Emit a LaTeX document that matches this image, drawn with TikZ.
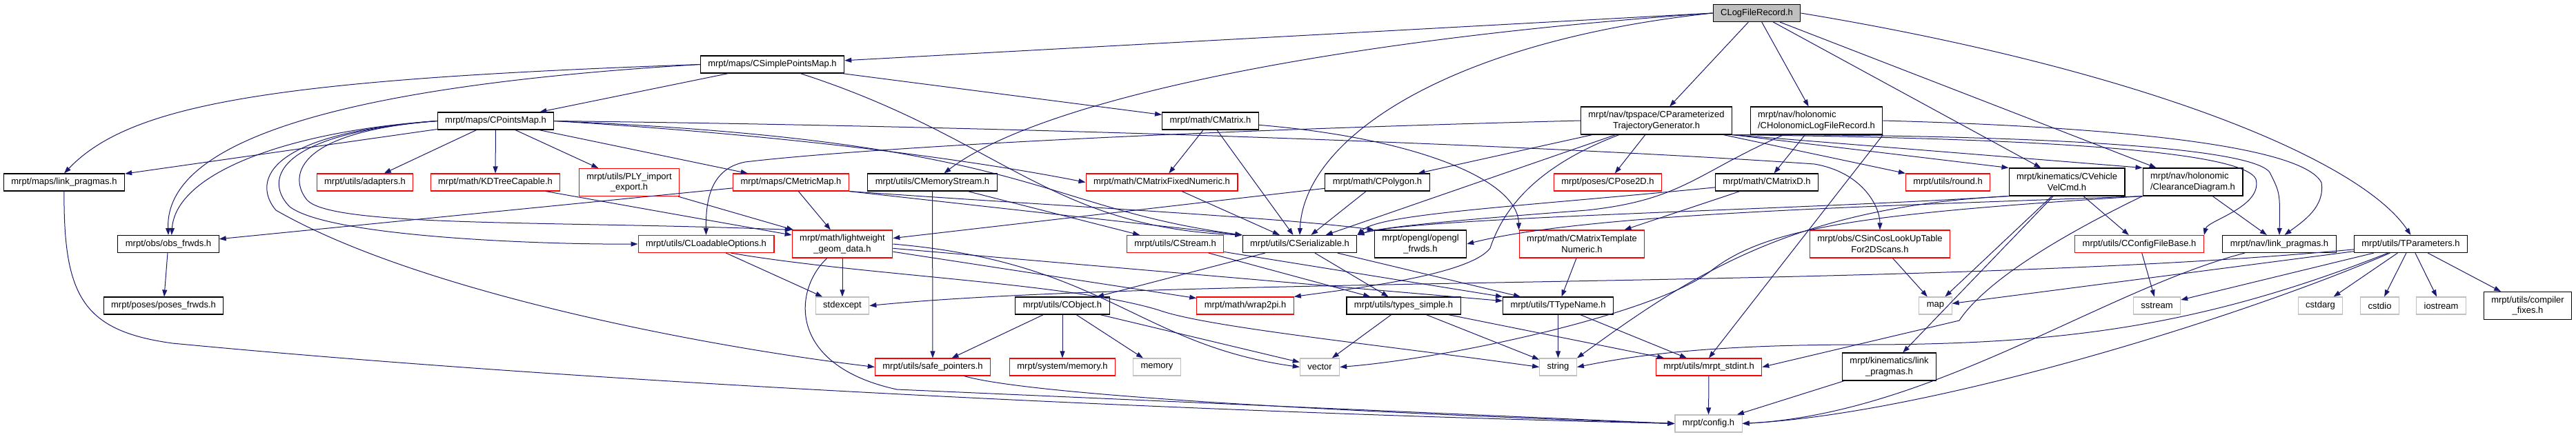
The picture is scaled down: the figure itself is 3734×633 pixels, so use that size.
\documentclass[tikz,border=0pt]{standalone}
\usepackage{fontspec}
\setmainfont{Liberation Sans}
\usetikzlibrary{arrows.meta}
\definecolor{depblue}{RGB}{25,25,112}
\definecolor{grey75}{RGB}{191,191,191}

\begin{document}
\begin{tikzpicture}[x=1pt,y=1pt,
        hdr/.style={draw=black,line width=1.1pt,fill=white,inner xsep=11pt,inner ysep=1pt,minimum height=25pt,align=center,font=\fontsize{13}{15.5}\selectfont},
        two/.style={minimum height=40pt},
        redhdr/.style={hdr,draw=red},
        syshdr/.style={hdr,draw=grey75},
        roothdr/.style={hdr,fill=grey75},
        dep/.style={depblue,line width=1pt,-{Triangle[length=10pt,width=7pt]}}]
    \useasboundingbox (0,0) rectangle (3734,-633);
    %% headers, top rows
    \node[roothdr] (root) at (2546.5,-19) {CLogFileRecord.h};
    \node[hdr] (spm) at (1119.5,-93.5) {mrpt/maps/CSimplePointsMap.h};
    \node[hdr] (pm) at (718.5,-175.5) {mrpt/maps/CPointsMap.h};
    \node[hdr] (cmat) at (1754.5,-175.5) {mrpt/math/CMatrix.h};
    \node[hdr,two] (ptg) at (2401,-175) {mrpt/nav/tpspace/CParameterized\\TrajectoryGenerator.h};
    \node[hdr,two,align=left] (hlog) at (2633,-175) {mrpt/nav/holonomic\\/CHolonomicLogFileRecord.h};
    %% third row
    \node[hdr] (mlink) at (93,-264.5) {mrpt/maps/link\_pragmas.h};
    \node[redhdr] (adapt) at (529,-264.5) {mrpt/utils/adapters.h};
    \node[redhdr] (kdt) at (718,-264.5) {mrpt/math/KDTreeCapable.h};
    \node[redhdr,two] (ply) at (912,-264.5) {mrpt/utils/PLY\_import\\\_export.h};
    \node[redhdr] (metric) at (1146.5,-264.5) {mrpt/maps/CMetricMap.h};
    \node[hdr] (memst) at (1351.5,-264.5) {mrpt/utils/CMemoryStream.h};
    \node[redhdr] (cmfix) at (1684,-264.5) {mrpt/math/CMatrixFixedNumeric.h};
    \node[hdr] (poly) at (1996.5,-264.5) {mrpt/math/CPolygon.h};
    \node[redhdr] (pose) at (2330.5,-264.5) {mrpt/poses/CPose2D.h};
    \node[hdr] (cmatd) at (2561,-264.5) {mrpt/math/CMatrixD.h};
    \node[redhdr] (round) at (2823.5,-264.5) {mrpt/utils/round.h};
    \node[hdr,two] (vcmd) at (2996,-264) {mrpt/kinematics/CVehicle\\VelCmd.h};
    \node[hdr,two,align=left] (clear) at (3178.5,-264) {mrpt/nav/holonomic\\/ClearanceDiagram.h};
    %% fourth row
    \node[hdr] (obsf) at (244,-354) {mrpt/obs/obs\_frwds.h};
    \node[redhdr] (loadopt) at (1023.5,-354) {mrpt/utils/CLoadableOptions.h};
    \node[redhdr,two] (lgeom) at (1221,-354) {mrpt/math/lightweight\\\_geom\_data.h};
    \node[redhdr] (stream) at (1703.5,-354) {mrpt/utils/CStream.h};
    \node[hdr] (ser) at (1884,-354) {mrpt/utils/CSerializable.h};
    \node[hdr,two] (glf) at (2059,-354) {mrpt/opengl/opengl\\\_frwds.h};
    \node[redhdr,two] (cmtn) at (2293,-354) {mrpt/math/CMatrixTemplate\\Numeric.h};
    \node[redhdr,two] (sincos) at (2725,-354) {mrpt/obs/CSinCosLookUpTable\\For2DScans.h};
    \node[redhdr] (cfg) at (3101,-354) {mrpt/utils/CConfigFileBase.h};
    \node[hdr] (nlink) at (3304,-354) {mrpt/nav/link\_pragmas.h};
    \node[hdr] (tpar) at (3494.5,-354) {mrpt/utils/TParameters.h};
    %% fifth row
    \node[hdr] (posef) at (237,-443.5) {mrpt/poses/poses\_frwds.h};
    \node[syshdr] (stdexc) at (1221,-443.5) {stdexcept};
    \node[hdr] (cobj) at (1540,-443.5) {mrpt/utils/CObject.h};
    \node[redhdr] (wrap) at (1805,-443.5) {mrpt/math/wrap2pi.h};
    \node[hdr] (types) at (2034.5,-443.5) {mrpt/utils/types\_simple.h};
    \node[hdr] (ttype) at (2258.5,-443.5) {mrpt/utils/TTypeName.h};
    \node[syshdr] (smap) at (2805.5,-443.5) {map};
    \node[syshdr] (sstr) at (3126.5,-443.5) {sstream};
    \node[syshdr] (cstdarg) at (3363.5,-443.5) {cstdarg};
    \node[syshdr] (cstdio) at (3449.5,-443.5) {cstdio};
    \node[syshdr] (iostr) at (3538.5,-443.5) {iostream};
    \node[hdr,two] (cfix) at (3664,-443.5) {mrpt/utils/compiler\\\_fixes.h};
    %% bottom rows
    \node[redhdr] (safe) at (1352,-532.5) {mrpt/utils/safe\_pointers.h};
    \node[redhdr] (sysmem) at (1540,-532.5) {mrpt/system/memory.h};
    \node[syshdr] (memory) at (1677,-532.5) {memory};
    \node[syshdr] (vector) at (1913,-532.5) {vector};
    \node[syshdr] (string) at (2258.5,-532.5) {string};
    \node[redhdr] (stdint) at (2477,-532.5) {mrpt/utils/mrpt\_stdint.h};
    \node[hdr,two] (klink) at (2738.5,-532) {mrpt/kinematics/link\\\_pragmas.h};
    \node[syshdr] (config) at (2476.5,-614.5) {mrpt/config.h};
    %% CLogFileRecord.h
    \draw[dep] (root.west) -- (spm);
    \draw[dep] (root.west) .. controls (1900,-60) and (1500,-150) .. (memst);
    \draw[dep] (root.west) .. controls (2100,-60) and (1890,-200) .. (ser.north);
    \draw[dep] (root) -- (ptg);
    \draw[dep] (root) -- (hlog);
    \draw[dep] (root) -- (vcmd);
    \draw[dep] (root) -- (clear);
    \draw[dep] (root.east) .. controls (3100,-100) and (3420,-230) .. (tpar.north);
    %% CSimplePointsMap.h
    \draw[dep] (spm) -- (pm);
    \draw[dep] (spm) -- (cmat);
    \draw[dep] (spm.west) .. controls (400,-115) and (190,-150) .. (mlink.north);
    \draw[dep] (spm.west) .. controls (400,-130) and (240,-230) .. (obsf.north);
    \draw[dep] (spm) .. controls (1450,-200) and (1520,-330) .. (ser.north west);
    %% CPointsMap.h
    \draw[dep] (pm) -- (mlink);
    \draw[dep] (pm.west) .. controls (420,-190) and (255,-250) .. (obsf.70);
    \draw[dep] (pm) -- (adapt);
    \draw[dep] (pm) -- (kdt);
    \draw[dep] (pm) -- (ply);
    \draw[dep] (pm) -- (metric);
    \draw[dep] (pm.west) .. controls (390,-195) and (385,-265) .. (420,-300) .. controls (480,-345) and (800,-355) .. (loadopt.west);
    \draw[dep] (pm.west) .. controls (420,-192) and (420,-260) .. (445,-290) .. controls (480,-330) and (800,-320) .. (lgeom.north west);
    \draw[dep] (pm.west) .. controls (370,-195) and (370,-270) .. (400,-305) .. controls (600,-420) and (1000,-500) .. (safe.west);
    \draw[dep] (pm.east) .. controls (1500,-205) and (1500,-300) .. (ser.north west);
    \draw[dep] (pm.east) .. controls (1200,-200) and (1450,-240) .. (cmfix.west);
    \draw[dep] (pm.east) .. controls (1600,-185) and (2300,-215) .. (2630,-238) .. controls (2700,-250) and (2725,-300) .. (sincos.north);
    %% CMetricMap.h and friends
    \draw[dep] (metric) -- (obsf);
    \draw[dep] (metric) -- (lgeom);
    \draw[dep] (metric.south east) -- (ser.north west);
    \draw[dep] (metric.south east) .. controls (1550,-300) and (1850,-315) .. (glf.north west);
    \draw[dep] (kdt) -- (lgeom);
    \draw[dep] (ply) -- (lgeom);
    \draw[dep] (memst) -- (stream);
    \draw[dep] (memst) -- (safe);
    %% CMatrix.h
    \draw[dep] (cmat) -- (cmfix);
    \draw[dep] (cmat) -- (ser);
    \draw[dep] (cmat) .. controls (2050,-200) and (2200,-260) .. (cmtn.north west);
    \draw[dep] (cmfix) -- (ser);
    %% CParameterizedTrajectoryGenerator.h
    \draw[dep] (ptg) -- (poly);
    \draw[dep] (ptg) -- (pose);
    \draw[dep] (ptg) -- (ser);
    \draw[dep] (ptg) -- (round);
    \draw[dep] (ptg.south east) -- (vcmd.north west);
    \draw[dep] (ptg.south east) -- (clear.north west);
    \draw[dep] (ptg.west) .. controls (1700,-190) and (1250,-215) .. (1080,-235) .. controls (1030,-245) and (1023,-290) .. (loadopt.north);
    \draw[dep] (ptg) .. controls (2230,-240) and (2180,-300) .. (2160,-360) .. controls (2130,-400) and (1950,-420) .. (wrap.north east);
    \draw[dep] (ptg.south east) .. controls (2900,-200) and (3250,-215) .. (3270,-260) .. controls (3280,-300) and (3200,-320) .. (cfg.north east);
    \draw[dep] (ptg.south east) .. controls (2900,-195) and (3260,-210) .. (3290,-250) .. controls (3305,-280) .. (nlink.north);
    \draw[dep] (poly) -- (lgeom);
    \draw[dep] (poly) -- (ser);
    %% CHolonomicLogFileRecord.h
    \draw[dep] (hlog) -- (cmatd);
    \draw[dep] (hlog) .. controls (2460,-250) and (2440,-290) .. (2300,-305) .. controls (2100,-320) and (2000,-330) .. (ser.north east);
    \draw[dep] (hlog.east) .. controls (3100,-185) and (3340,-215) .. (3365,-265) .. controls (3370,-300) and (3340,-320) .. (nlink.60);
    \draw[dep] (hlog.south east) -- (stdint.north);
    \draw[dep] (cmatd) -- (cmtn);
    \draw[dep] (cmatd) .. controls (2200,-300) and (2000,-310) .. (ser.north east);
    %% CVehicleVelCmd.h
    \draw[dep] (vcmd.south west) .. controls (2600,-305) and (2050,-315) .. (ser.north east);
    \draw[dep] (vcmd) -- (klink);
    \draw[dep] (vcmd) -- (cfg);
    \draw[dep] (vcmd) -- (smap);
    \draw[dep] (vcmd.south west) .. controls (2600,-300) and (2450,-400) .. (string.north east);
    %% ClearanceDiagram.h
    \draw[dep] (clear) -- (nlink);
    \draw[dep] (clear.south west) .. controls (2700,-300) and (2300,-310) .. (glf.east);
    \draw[dep] (clear.south west) .. controls (2950,-360) and (2870,-420) .. (2840,-465) -- (stdint.east);
    \draw[dep] (clear.south west) .. controls (2700,-310) and (2560,-330) .. (2480,-393) .. controls (2400,-455) and (2100,-520) .. (vector.east);
    %% TParameters.h
    \draw[dep] (tpar) -- (smap);
    \draw[dep] (tpar) .. controls (2800,-420) and (1700,-400) .. (stdexc.east);
    \draw[dep] (tpar) -- (sstr);
    \draw[dep] (tpar) -- (cstdarg);
    \draw[dep] (tpar) -- (cstdio);
    \draw[dep] (tpar) -- (iostr);
    \draw[dep] (tpar) -- (cfix);
    \draw[dep] (tpar) .. controls (3200,-470) and (3000,-500) .. (2700,-500) .. controls (2450,-500) and (2350,-520) .. (string.east);
    \draw[dep] (tpar) .. controls (3250,-460) and (2800,-600) .. (config.east);
    %% utils
    \draw[dep] (loadopt) -- (stdexc);
    \draw[dep] (loadopt.-20) .. controls (1250,-400) and (1550,-410) .. (1680,-450) .. controls (1750,-475) and (2000,-500) .. (string.west);
    \draw[dep] (lgeom) -- (stdexc);
    \draw[dep] (lgeom) -- (wrap);
    \draw[dep] (lgeom) -- (ttype);
    \draw[dep] (lgeom.east) .. controls (1600,-380) and (1650,-500) .. (vector.west);
    \draw[dep] (lgeom) .. controls (1150,-420) and (1140,-530) .. (1300,-565) -- (config.west);
    \draw[dep] (stream) -- (types);
    \draw[dep] (stream) -- (ttype);
    \draw[dep] (ser) -- (cobj);
    \draw[dep] (ser) -- (types);
    \draw[dep] (ser) -- (ttype);
    \draw[dep] (cmtn) -- (ttype);
    \draw[dep] (sincos) -- (smap);
    \draw[dep] (cfg) -- (sstr);
    \draw[dep] (obsf) -- (posef);
    \draw[dep] (cobj) -- (safe);
    \draw[dep] (cobj) -- (sysmem);
    \draw[dep] (cobj) -- (memory);
    \draw[dep] (cobj) -- (vector);
    \draw[dep] (types) -- (vector);
    \draw[dep] (types) -- (string);
    \draw[dep] (types) -- (stdint);
    \draw[dep] (ttype) -- (string);
    \draw[dep] (ttype) -- (stdint);
    %% down to mrpt/config.h
    \draw[dep] (mlink) .. controls (92,-430) and (120,-480) .. (250,-498) .. controls (900,-560) and (1800,-600) .. (config.west);
    \draw[dep] (safe) .. controls (1500,-575) and (2000,-600) .. (config.west);
    \draw[dep] (stdint) -- (config);
    \draw[dep] (klink) -- (config);
    \draw[dep] (nlink) .. controls (3050,-420) and (2800,-600) .. (config.east);
\end{tikzpicture}
\end{document}
